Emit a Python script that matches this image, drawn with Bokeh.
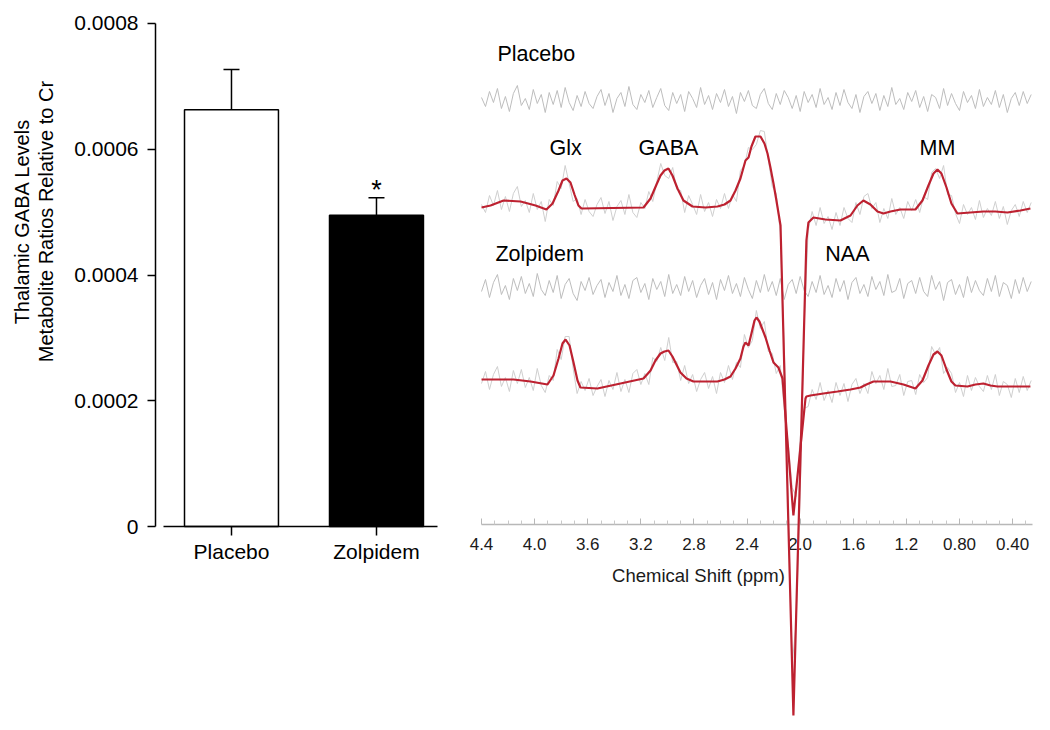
import numpy as np
from bokeh.plotting import figure
from bokeh.models import (Range1d, FixedTicker, CustomJSTickFormatter, Whisker, TeeHead,
                          ColumnDataSource)
from bokeh.layouts import row
from bokeh.embed import file_html
from bokeh.resources import INLINE
from bokeh.core.properties import value

FONT = "Liberation Sans"
RED = "#bd2130"

# ---------------- bar chart data ----------------
groups = ["Placebo", "Zolpidem"]
gaba_mean = [0.000663, 0.000495]
gaba_sem = [0.000064, 0.000028]
bar_colors = ["white", "black"]
bar_y_ticks = [0, 0.0002, 0.0004, 0.0006, 0.0008]
y_label_lines = ["Thalamic GABA Levels", "Metabolite Ratios Relative to Cr"]
significance = ["", "*"]

# ---------------- spectrum data ----------------
spec_ticks = [4.4, 4.0, 3.6, 3.2, 2.8, 2.4, 2.0, 1.6, 1.2, 0.8, 0.4]
spec_tick_labels = ["4.4", "4.0", "3.6", "3.2", "2.8", "2.4", "2.0", "1.6", "1.2", "0.80", "0.40"]
spec_minor_ticks = [4.3, 4.2, 4.1, 3.9, 3.8, 3.7, 3.5, 3.4, 3.3, 3.1, 3.0, 2.9, 2.7, 2.6, 2.5,
                    2.3, 2.2, 2.1, 1.9, 1.8, 1.7, 1.5, 1.4, 1.3, 1.1, 1.0, 0.9, 0.7, 0.6, 0.5, 0.3]
x_title = "Chemical Shift (ppm)"

# fitted spectra (ppm, amplitude)
placebo_fit_ppm = [4.400, 4.332, 4.234, 4.106, 3.993, 3.911, 3.865, 3.820, 3.790, 3.760, 3.730, 3.700,
                   3.670, 3.647, 3.180, 3.127, 3.082, 3.052, 3.022, 2.992, 2.962, 2.924, 2.879, 2.811,
                   2.713, 2.623, 2.570, 2.525, 2.487, 2.450, 2.412, 2.389, 2.367, 2.337, 2.299, 2.269,
                   2.246, 2.224, 2.201, 2.179, 2.148, 2.051, 1.953, 1.938, 1.900, 1.810, 1.697, 1.621,
                   1.569, 1.524, 1.471, 1.418, 1.373, 1.320, 1.245, 1.132, 1.079, 1.034, 0.996, 0.966,
                   0.936, 0.898, 0.861, 0.816, 0.718, 0.620, 0.530, 0.439, 0.341, 0.266]
placebo_fit_amp = [1, 3, 8, 7, 3, -1, 5, 18, 28, 30, 26, 14,
                   3, 0, 1, 10, 24, 33, 38, 40, 33, 20, 8, 2,
                   1, 2, 4, 8, 18, 30, 48, 51, 62, 72, 72, 65,
                   55, 41, 25, 8, -17, -507, -32, -14, -9, -11, -12, -7,
                   3, 8, 4, -3, -5, -3, -1, -1, 8, 23, 35, 39,
                   35, 21, 5, -5, -4, -3, -3, -4, -2, 0]
zolpidem_fit_ppm = [4.400, 4.159, 4.031, 3.903, 3.858, 3.820, 3.790, 3.767, 3.737, 3.707, 3.677, 3.655,
                    3.527, 3.353, 3.180, 3.127, 3.090, 3.052, 3.022, 2.992, 2.962, 2.932, 2.902, 2.856,
                    2.804, 2.623, 2.570, 2.525, 2.487, 2.450, 2.427, 2.412, 2.389, 2.367, 2.344, 2.329,
                    2.307, 2.284, 2.261, 2.231, 2.201, 2.164, 2.133, 2.051, 1.960, 1.953, 1.923, 1.825,
                    1.719, 1.621, 1.546, 1.501, 1.448, 1.320, 1.222, 1.132, 1.079, 1.034, 0.996, 0.966,
                    0.936, 0.898, 0.861, 0.831, 0.740, 0.680, 0.620, 0.567, 0.514, 0.266]
zolpidem_fit_amp = [5, 5, 3, 0, 9, 26, 41, 45, 39, 22, 4, -3,
                    -4, 1, 6, 14, 24, 31, 33, 34, 28, 20, 12, 6,
                    3, 3, 5, 8, 16, 26, 38, 42, 39, 51, 64, 67,
                    63, 55, 47, 34, 22, 17, 6, -131, -14, -12, -11, -9,
                    -7, -5, -3, 0, 3, 3, 0, -4, 4, 19, 30, 33,
                    29, 15, 3, -1, -2, 0, 1, -1, -2, -2]

# sampled spectra: first point at 4.40 ppm, one sample every 0.03 ppm
sample_start_ppm = 4.40
sample_step_ppm = 0.03
placebo_raw = [4, -4, 13, 3, 18, -1, 12, -3, 15, 22,
               2, 8, -4, 15, -1, 7, -13, 9, 3, 27,
               20, 43, 25, 7, 10, -6, 9, -3, -8, 4,
               11, -5, 7, -12, 2, 8, -6, 14, -4, -9,
               6, 0, 17, 7, 27, 45, 33, 30, 41, 19,
               18, -4, 13, 4, -6, 14, -3, 6, -8, 9,
               0, 15, 0, 14, 7, 38, 43, 61, 59, 64,
               78, 77, 49, 22, 15, -24, -139, -297, -455, -414,
               -284, -118, -22, -3, -17, 1, -15, -8, -21, -4,
               -17, 1, -10, -14, 6, -6, 12, 15, 0, 6,
               -14, 0, -10, 10, -6, 1, -10, 7, -2, 9,
               -4, 12, 9, 36, 40, 30, 43, 14, 13, -5,
               -15, 4, -6, 1, -11, 8, -9, 0, -7, 7,
               -10, 2, -16, -2, 4, -8, 7, -4, 6]
placebo_residual = [3, -6, 9, -2, 12, -8, 4, -11, 7, 15,
                    -5, 2, -9, 11, -3, 6, -12, 8, -4, 10,
                    -7, 13, -2, -10, 5, -6, 9, -3, -8, 4,
                    11, -5, 7, -12, 2, 8, -6, 14, -4, -9,
                    6, -2, 10, -7, 3, 12, -5, -10, 8, -3,
                    6, -11, 9, 2, -7, 13, -4, 5, -9, 7,
                    -2, 11, -6, 4, -13, 8, -1, 10, -5, -8,
                    6, 12, -3, -9, 7, -4, 10, 3, -8, 5,
                    -11, 9, -2, 6, -7, 12, -4, 3, -9, 8,
                    -5, 11, -2, -8, 6, -12, 4, 9, -3, 7,
                    -10, 5, -6, 13, -4, 2, -9, 8, -1, 10,
                    -7, 4, -11, 6, 3, -8, 12, -5, 7, -3,
                    -10, 9, -2, 5, -8, 11, -6, 3, -4, 10,
                    -7, 6, -12, 2, 8, -5, 9, -3, 6]
zolpidem_raw = [1, 13, -5, 10, 18, -2, 7, -7, 14, 1,
                15, -3, 7, -6, 16, -1, -8, 9, 4, 35,
                25, 48, 48, 16, -9, 3, -6, 6, -11, -2,
                5, -12, 4, -5, 12, -7, 5, -8, 11, 15,
                0, 11, 0, 27, 23, 37, 24, 47, 22, 23,
                4, 19, 1, 10, -7, 5, 12, -4, 8, -9,
                12, 2, 19, 5, 22, 17, 50, 37, 44, 74,
                56, 63, 33, 31, 11, 19, -25, -59, -103, -112,
                -53, -24, -22, -5, -15, 2, -16, -6, -18, 2,
                -11, 1, -17, 0, 6, -9, 1, -9, 13, 1,
                9, -5, 16, -2, -1, 10, -11, 3, 4, -10,
                10, 2, 7, 38, 30, 37, 11, 17, 11, -8,
                2, -12, 9, -6, 7, -2, -7, 9, -5, 10,
                -11, 3, 0, -13, 6, -8, 8, -6, 4]
zolpidem_residual = [-4, 8, -10, 5, 13, -7, 2, -12, 9, -3,
                     11, -6, 4, -9, 14, -2, -8, 7, -5, 12,
                     -11, 3, 9, -6, -13, 6, -3, 10, -7, 2,
                     8, -10, 5, -4, 12, -8, 3, -11, 7, 10,
                     -5, 4, -12, 9, -2, 6, -9, 13, -6, 3,
                     -8, 11, -4, 7, -10, 2, 9, -7, 5, -12,
                     8, -3, 12, -6, 4, -9, 10, -2, -11, 7,
                     -5, 13, -4, 6, -8, 9, -12, 3, 8, -6,
                     11, -3, -9, 6, -5, 12, -7, 2, -10, 9,
                     -4, 7, -12, 5, 10, -6, 3, -9, 11, -2,
                     6, -8, 13, -5, -3, 9, -11, 4, 7, -6,
                     10, -4, -9, 12, -2, 6, -13, 5, 8, -7,
                     3, -10, 11, -5, 7, -3, -8, 9, -4, 12,
                     -9, 5, 2, -11, 8, -6, 10, -4, 6]

spec_labels = ["Placebo", "Zolpidem", "Glx", "GABA", "MM", "NAA"]

# ---------------- layout constants (page geometry) ----------------
H = 728
# spectrum: vertical stacking of the traces (data units = px above the figure bottom)
OFF_P_RES, OFF_P_FIT, OFF_Z_RES, OFF_Z_FIT, AXIS_Y = 628, 520, 441, 344, 204
label_ppm = [4.28, 4.295, 3.767, 2.992, 0.966, 1.644]
label_y = [675, 475, 581, 581, 581, 475]
label_align = ["left", "left", "center", "center", "center", "center"]
# bar chart: frame covers the whole figure, axes pinned inside it
BAR_X_RANGE = (-0.593, 2.6346)
BAR_Y_RANGE = (-0.00032127, 0.00083658)
BAR_YAXIS_X = 0.476
YLAB_X = [-0.448, -0.276]
YLAB_Y = 0.000485


def sample_ppm(n):
    return sample_start_ppm - sample_step_ppm * np.arange(n)


# ================= bar chart =================
bar_x = list(range(1, len(groups) + 1))
upper = list(np.add(gaba_mean, gaba_sem))
src = ColumnDataSource(dict(x=bar_x, top=gaba_mean, lower=gaba_mean, upper=upper,
                            color=bar_colors, sig=significance))

p1 = figure(width=468, height=H, x_range=Range1d(*BAR_X_RANGE), y_range=Range1d(*BAR_Y_RANGE),
            output_backend="svg", toolbar_location=None,
            min_border_left=0, min_border_right=0, min_border_top=0, min_border_bottom=0)
p1.vbar(x="x", top="top", width=0.648, fill_color="color", line_color="black",
        line_width=1.5, source=src)
p1.add_layout(Whisker(source=src, base="x", lower="lower", upper="upper",
                      upper_head=TeeHead(size=16, line_color="black", line_width=1.5),
                      lower_head=None, line_color="black", line_width=1.5))
p1.text(x="x", y="upper", text="sig", source=src, text_align="center",
        text_baseline="alphabetic", y_offset=-8, text_font_size="27px", text_font=value(FONT),
        text_color="black")
p1.text(x=YLAB_X, y=[YLAB_Y, YLAB_Y], text=y_label_lines, angle=np.pi / 2,
        text_align="center", text_baseline="middle", text_font=value(FONT),
        text_font_size="20px", text_color="black")

p1.xaxis.fixed_location = 0
p1.xaxis.ticker = FixedTicker(ticks=bar_x)
p1.xaxis.major_label_overrides = {x: g for x, g in zip(bar_x, groups)}
p1.xaxis.bounds = (0.531, 2.421)
p1.yaxis.fixed_location = BAR_YAXIS_X
p1.yaxis.ticker = FixedTicker(ticks=bar_y_ticks)
p1.yaxis.bounds = (0, 0.0008)
p1.yaxis.formatter = CustomJSTickFormatter(code="return tick === 0 ? '0' : tick.toFixed(4);")
for ax in (p1.xaxis[0], p1.yaxis[0]):
    ax.axis_line_width = 1.5
    ax.axis_line_color = "black"
    ax.major_tick_line_width = 1.5
    ax.major_tick_line_color = "black"
    ax.major_tick_in = 0
    ax.major_tick_out = 8
    ax.minor_tick_line_color = None
    ax.major_label_text_font = FONT
    ax.major_label_text_font_size = "21px"
    ax.major_label_text_color = "black"
p1.xaxis.major_tick_out = 9
p1.xaxis.major_label_standoff = 4
p1.yaxis.major_label_standoff = 9
p1.grid.visible = False
p1.outline_line_color = None

# ================= spectrum =================
p2 = figure(width=574, height=H, x_range=Range1d(4.498, 0.175), y_range=Range1d(0, H),
            y_axis_location=None, output_backend="svg", toolbar_location=None,
            min_border_left=0, min_border_right=0, min_border_top=0, min_border_bottom=0)

p2.line(sample_ppm(len(placebo_residual)), OFF_P_RES + np.array(placebo_residual),
        line_color="#bdbdbd", line_width=1)
p2.line(sample_ppm(len(zolpidem_residual)), OFF_Z_RES + np.array(zolpidem_residual),
        line_color="#bdbdbd", line_width=1)
p2.line(sample_ppm(len(placebo_raw)), OFF_P_FIT + np.array(placebo_raw),
        line_color="#cfcfcf", line_width=1)
p2.line(sample_ppm(len(zolpidem_raw)), OFF_Z_FIT + np.array(zolpidem_raw),
        line_color="#cfcfcf", line_width=1)
p2.line(zolpidem_fit_ppm, OFF_Z_FIT + np.array(zolpidem_fit_amp), line_color=RED, line_width=2.2)
p2.line(placebo_fit_ppm, OFF_P_FIT + np.array(placebo_fit_amp), line_color=RED, line_width=2.2)

lab = ColumnDataSource(dict(x=label_ppm, y=label_y, text=spec_labels, align=label_align))
p2.text(x="x", y="y", text="text", text_align="align", text_baseline="middle", source=lab,
        text_font=value(FONT), text_font_size="21.5px", text_color="black")
p2.text(x=[2.766], y=[153], text=[x_title], text_align="center", text_baseline="middle",
        text_font=value(FONT), text_font_size="18.5px", text_color="#1a1a1a")

sx = p2.xaxis[0]
sx.fixed_location = AXIS_Y
sx.bounds = (4.4, 0.25)
sx.ticker = FixedTicker(ticks=spec_ticks, minor_ticks=spec_minor_ticks)
sx.formatter = CustomJSTickFormatter(
    args=dict(tick_values=spec_ticks, tick_texts=spec_tick_labels),
    code="for (let i = 0; i < tick_values.length; i++) { if (Math.abs(tick_values[i] - tick) < 1e-6) { return tick_texts[i]; } } return '';")
sx.axis_line_color = "#b8b8b8"
sx.axis_line_width = 1.5
sx.major_tick_line_color = "#b8b8b8"
sx.major_tick_in = 6
sx.major_tick_out = 0
sx.minor_tick_line_color = "#c8c8c8"
sx.minor_tick_in = 4
sx.minor_tick_out = 0
sx.major_label_standoff = 13
sx.major_label_text_font = FONT
sx.major_label_text_font_size = "17px"
sx.major_label_text_color = "#1a1a1a"
sx.level = "underlay"
p2.grid.visible = False
p2.outline_line_color = None

layout = row(p1, p2)
open("out.html", "w").write(file_html(layout, INLINE))
